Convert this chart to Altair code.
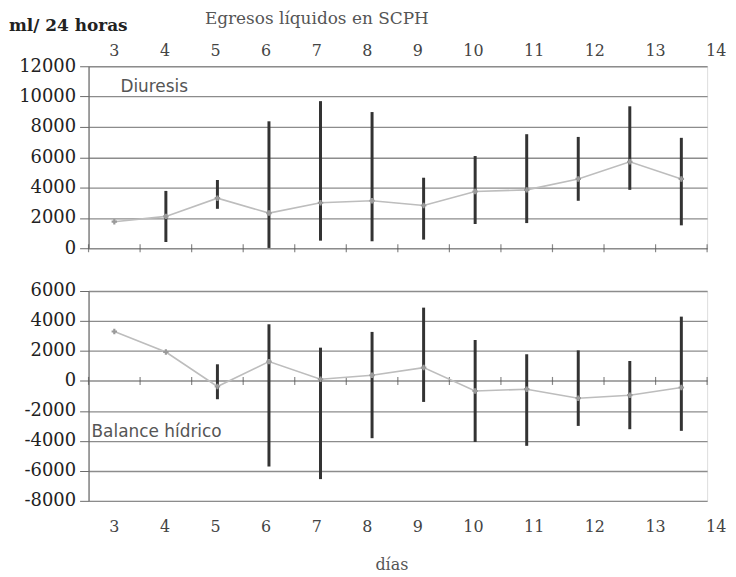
import altair as alt
import pandas as pd

# ---- data ----
days = [3, 4, 5, 6, 7, 8, 9, 10, 11, 12, 13, 14]
day_labels = ["3", "4", "5", "6", "7", "8", "9", "10", "11", "12", "13", "14"]

diuresis_mean = [1750, 2100, 3300, 2320, 3000, 3130, 2820, 3740, 3850, 4570, 5700, 4570]
diuresis_low = [None, 410, 2600, 20, 500, 460, 570, 1600, 1660, 3130, 3850, 1510]
diuresis_high = [None, 3780, 4500, 8370, 9700, 8980, 4650, 6080, 7520, 7340, 9360, 7280]

balance_mean = [3300, 1930, -370, 1290, 110, 380, 890, -670, -550, -1150, -950, -440]
balance_low = [None, None, -1220, -5710, -6550, -3820, -1400, -4070, -4330, -3000, -3220, -3330]
balance_high = [None, None, 1110, 3780, 2220, 3270, 4890, 2730, 1780, 2040, 1330, 4290]

top_ticks = [0, 2000, 4000, 6000, 8000, 10000, 12000]
bottom_ticks = [-8000, -6000, -4000, -2000, 0, 2000, 4000, 6000]

# category edges (ticks between days)
edges = [d - 0.5 for d in days] + [days[-1] + 0.5]

SERIF = "DejaVu Serif"
SANS = "DejaVu Sans"
W = 622
label_row = ("\u00a0" * 8).join(day_labels)


def panel(mean, low, high, yvals, height, name, name_x, name_y, label_y):
    df = pd.DataFrame({"dia": days, "media": mean, "min": low, "max": high})
    edf = pd.DataFrame({"b": edges, "z": [0] * len(edges)})
    xs = alt.Scale(domain=[edges[0], edges[-1]], nice=False, zero=False)
    ys = alt.Scale(domain=[yvals[0], yvals[-1]], nice=False, zero=False)
    yaxis = alt.Axis(
        values=yvals, grid=True, gridColor="#8c8c8c", gridWidth=1.3,
        domain=True, domainColor="#6a6a6a", domainWidth=1.2,
        ticks=True, tickSize=9, tickColor="#6a6a6a",
        labelFont=SERIF, labelFontSize=18, labelColor="#222222",
        labelPadding=4, labelOverlap=False, labelExpr="'' + datum.value", title=None,
    )
    X = lambda f: alt.X(f, scale=xs, axis=None)
    Y = lambda f: alt.Y(f, scale=ys, axis=yaxis)
    base = alt.Chart(df)
    ticks = alt.Chart(edf).mark_tick(
        orient="vertical", size=8, thickness=1.2, color="#555555"
    ).encode(x=X("b:Q"), y=Y("z:Q"))
    bars = base.mark_rule(strokeWidth=3, color="#333333").encode(
        x=X("dia:Q"), y=Y("min:Q"), y2="max:Q"
    )
    line = base.mark_line(color="#bdbdbd", strokeWidth=1.6).encode(
        x=X("dia:Q"), y=Y("media:Q")
    )
    pts = base.mark_point(shape="cross", filled=True, size=30, color="#9a9a9a", opacity=1).encode(
        x=X("dia:Q"), y=Y("media:Q")
    )
    nm = alt.Chart(pd.DataFrame({"t": [name]})).mark_text(
        align="left", baseline="middle", font=SANS, fontSize=17, color="#555555"
    ).encode(text="t:N", x=alt.value(name_x), y=alt.value(name_y))
    labs = alt.Chart(pd.DataFrame({"t": [label_row], "d": [days[0]]})).mark_text(
        align="left", baseline="middle", font=SERIF, fontSize=16, color="#444444", dx=-5
    ).encode(text="t:N", x=X("d:Q"), y=alt.value(label_y))
    return alt.layer(ticks, bars, line, pts, nm, labs).properties(width=W, height=height)


top = panel(diuresis_mean, diuresis_low, diuresis_high, top_ticks, 183,
            "Diuresis", 32, 21, -15)
head = alt.Chart(pd.DataFrame({"t": ["Egresos líquidos en SCPH", "ml/ 24 horas"],
                               "px": [117, -80], "py": [-47, -40],
                               "w": ["normal", "bold"]}))
title_txt = head.transform_filter("datum.w == 'normal'").mark_text(
    align="left", baseline="middle", font=SERIF, fontSize=17, color="#555555"
).encode(text="t:N", x=alt.X("px:Q", scale=None), y=alt.Y("py:Q", scale=None))
unit_txt = head.transform_filter("datum.w == 'bold'").mark_text(
    align="left", baseline="middle", font=SERIF, fontSize=17, fontWeight="bold", color="#222222"
).encode(text="t:N", x=alt.X("px:Q", scale=None), y=alt.Y("py:Q", scale=None))
top = alt.layer(top, title_txt, unit_txt).resolve_scale(x="independent", y="independent")

bottom = panel(balance_mean, balance_low, balance_high, bottom_ticks, 211,
               "Balance hídrico", 3, 142, 237)
xlab = alt.Chart(pd.DataFrame({"t": ["días"]})).mark_text(
    align="center", baseline="middle", font=SERIF, fontSize=16, color="#555555"
).encode(text="t:N", x=alt.value(305), y=alt.value(276))
bottom = alt.layer(bottom, xlab)

chart = alt.vconcat(top, bottom, spacing=43, bounds="flush").properties(
    padding=0
).configure_view(stroke=None).configure(background="white")

chart.save("out.html", embed_options={"renderer": "svg", "actions": False})
